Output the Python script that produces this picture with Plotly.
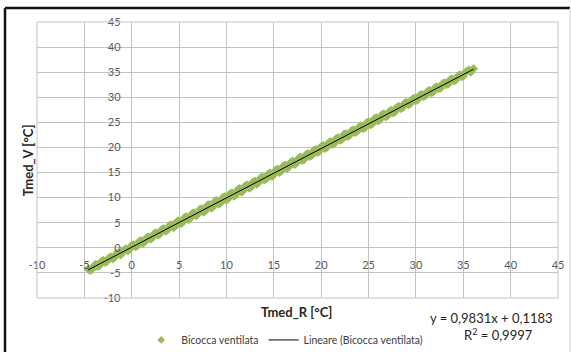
import plotly.graph_objects as go

# Measured mean temperatures: reference sensor (R) vs ventilated sensor (V), °C
tmed_r_a = [-4.6, -4.2, -3.8, -3.4, -3.0, -2.6, -2.2, -1.8, -1.4, -1.0, -0.6, -0.2,
            0.2, 0.6, 1.0, 1.4, 1.8, 2.2, 2.6, 3.0, 3.4, 3.8, 4.2, 4.6, 5.0, 5.4,
            5.8, 6.2, 6.6, 7.0, 7.4, 7.8, 8.2, 8.6, 9.0, 9.4, 9.8, 10.2, 10.6, 11.0,
            11.4, 11.8, 12.2, 12.6, 13.0, 13.4, 13.8, 14.2, 14.6, 15.0, 15.4, 15.8,
            16.2, 16.6, 17.0, 17.4, 17.8, 18.2, 18.6, 19.0, 19.4, 19.8, 20.2, 20.6,
            21.0, 21.4, 21.8, 22.2, 22.6, 23.0, 23.4, 23.8, 24.2, 24.6, 25.0, 25.4,
            25.8, 26.2, 26.6, 27.0, 27.4, 27.8, 28.2, 28.6, 29.0, 29.4, 29.8, 30.2,
            30.6, 31.0, 31.4, 31.8, 32.2, 32.6, 33.0, 33.4, 33.8, 34.2, 34.6, 35.0,
            35.4, 35.8, 36.1]
tmed_v_a = [-4.2, -4.3, -3.3, -3.5, -2.5, -2.7, -1.8, -1.9, -1.0, -1.1, -0.2, -0.3,
            0.6, 0.4, 1.4, 1.2, 2.2, 2.0, 3.0, 2.8, 3.8, 3.6, 4.6, 4.3, 5.4, 5.1,
            6.2, 5.9, 7.0, 6.7, 7.8, 7.4, 8.6, 8.2, 9.4, 9.0, 10.2, 9.8, 10.9, 10.6,
            11.8, 11.4, 12.5, 12.1, 13.3, 13.0, 14.1, 13.7, 14.9, 14.5, 15.7, 15.3,
            16.5, 16.1, 17.3, 16.9, 18.1, 17.6, 18.8, 18.4, 19.6, 19.2, 20.4, 20.0,
            21.2, 20.8, 21.9, 21.6, 22.7, 22.4, 23.5, 23.2, 24.3, 23.9, 25.1, 24.7,
            25.9, 25.5, 26.7, 26.3, 27.4, 27.1, 28.2, 27.9, 29.0, 28.7, 29.8, 29.5,
            30.6, 30.3, 31.4, 31.0, 32.1, 31.8, 32.9, 32.6, 33.7, 33.4, 34.5, 34.2,
            35.2, 35.0, 35.7]
tmed_r_b = [-4.4, -4.0, -3.6, -3.2, -2.8, -2.4, -2.0, -1.6, -1.2, -0.8, -0.4, 0.0,
            0.4, 0.8, 1.2, 1.6, 2.0, 2.4, 2.8, 3.2, 3.6, 4.0, 4.4, 4.8, 5.2, 5.6,
            6.0, 6.4, 6.8, 7.2, 7.6, 8.0, 8.4, 8.8, 9.2, 9.6, 10.0, 10.4, 10.8, 11.2,
            11.6, 12.0, 12.4, 12.8, 13.2, 13.6, 14.0, 14.4, 14.8, 15.2, 15.6, 16.0,
            16.4, 16.8, 17.2, 17.6, 18.0, 18.4, 18.8, 19.2, 19.6, 20.0, 20.4, 20.8,
            21.2, 21.6, 22.0, 22.4, 22.8, 23.2, 23.6, 24.0, 24.4, 24.8, 25.2, 25.6,
            26.0, 26.4, 26.8, 27.2, 27.6, 28.0, 28.4, 28.8, 29.2, 29.6, 30.0, 30.4,
            30.8, 31.2, 31.6, 32.0, 32.4, 32.8, 33.2, 33.6, 34.0, 34.4, 34.8, 35.2,
            35.6]
tmed_v_b = [-4.5, -3.6, -3.7, -2.7, -2.9, -2.0, -2.2, -1.1, -1.4, -0.4, -0.6, 0.5,
            0.2, 1.3, 0.9, 2.1, 1.7, 2.9, 2.5, 3.7, 3.3, 4.5, 4.0, 5.3, 4.8, 6.1,
            5.6, 6.9, 6.4, 7.7, 7.1, 8.5, 7.9, 9.3, 8.7, 10.0, 9.5, 10.8, 10.3, 11.6,
            11.1, 12.4, 11.9, 13.1, 12.7, 13.9, 13.5, 14.7, 14.2, 15.5, 15.0, 16.3,
            15.8, 17.1, 16.6, 17.8, 17.4, 18.6, 18.2, 19.4, 19.0, 20.2, 19.8, 21.0,
            20.6, 21.8, 21.4, 22.6, 22.2, 23.3, 23.0, 24.1, 23.8, 24.9, 24.5, 25.7,
            25.3, 26.5, 26.1, 27.2, 26.9, 28.0, 27.7, 28.8, 28.5, 29.6, 29.3, 30.4,
            30.1, 31.1, 30.9, 31.9, 31.7, 32.7, 32.5, 33.5, 33.3, 34.2, 34.1, 35.0,
            35.4]

# Linear trendline coefficients
slope = 0.9831
intercept = 0.1183
r_squared = 0.9997

axis_ticks = [-10, -5, 0, 5, 10, 15, 20, 25, 30, 35, 40, 45]
axis_tick_labels = ["-10", "-5", "0", "5", "10", "15", "20", "25", "30", "35", "40", "45"]

FONT = "Lato"
GREEN = "#9bbb59"
TICK_COLOR = "#595959"
GRID = "#c3c3c3"

tmed_r = tmed_r_a + tmed_r_b
tmed_v = tmed_v_a + tmed_v_b

x_lo, x_hi = min(tmed_r), max(tmed_r)
trend_x = [x_lo, x_hi]
trend_y = [slope * v + intercept for v in trend_x]

fig = go.Figure()
fig.add_trace(go.Scatter(
    x=tmed_r, y=tmed_v, mode="markers", name="Bicocca ventilata", showlegend=False,
    marker=dict(symbol="diamond", size=7, color=GREEN, line=dict(width=0)),
))
fig.add_trace(go.Scatter(
    x=trend_x, y=trend_y, mode="lines", name="Lineare (Bicocca ventilata)", showlegend=False,
    line=dict(color="#000000", width=1),
))
# Legend entries with small symbols
fig.add_trace(go.Scatter(
    x=[None], y=[None], mode="markers", name="Bicocca ventilata",
    marker=dict(symbol="diamond", size=6, color=GREEN),
))
fig.add_trace(go.Scatter(
    x=[None], y=[None], mode="lines", name="Lineare (Bicocca ventilata)",
    line=dict(color="#000000", width=1),
))

# Axes cross at the origin, Excel style
zero_frac = (0 - axis_ticks[0]) / (axis_ticks[-1] - axis_ticks[0])
common_axis = dict(
    range=[axis_ticks[0], axis_ticks[-1]], tickvals=axis_ticks, ticktext=axis_tick_labels,
    showgrid=True, gridcolor=GRID, gridwidth=1, zeroline=False,
    showline=False, ticks="outside", tickcolor="rgba(0,0,0,0)",
    anchor="free", position=zero_frac,
    tickfont=dict(family=FONT, size=11, color=TICK_COLOR),
)
fig.update_xaxes(**common_axis, ticklen=7)
fig.update_yaxes(**common_axis, ticklen=9)

fig.update_layout(
    width=571, height=352,
    margin=dict(l=37, r=13, t=22, b=54, autoexpand=False),
    paper_bgcolor="white", plot_bgcolor="white",
    font=dict(family=FONT, color="#404040"),
    showlegend=True,
    legend=dict(
        orientation="h", x=0.2, xanchor="left", y=-0.152, yanchor="middle",
        font=dict(family=FONT, size=10.5, color="#404040"),
        itemwidth=30, bgcolor="rgba(0,0,0,0)",
    ),
    shapes=[
        # plot-area frame
        dict(type="rect", xref="paper", yref="paper", x0=0, x1=1, y0=0, y1=1,
             line=dict(color=GRID, width=1)),
        # chart outer frame
        dict(type="line", xref="paper", yref="paper", x0=-0.0614, x1=1.023, y0=1.051, y1=1.051,
             line=dict(color="#111111", width=2.5)),
        dict(type="line", xref="paper", yref="paper", x0=-0.0614, x1=-0.0614, y0=1.051, y1=-0.25,
             line=dict(color="#111111", width=2.5)),
        dict(type="line", xref="paper", yref="paper", x0=1.023, x1=1.023, y0=1.051, y1=-0.25,
             line=dict(color="#d0d0d0", width=1)),
    ],
    annotations=[
        dict(text="<b>Tmed_R [°C]</b>", xref="paper", yref="paper", x=0.499, y=-0.051,
             xanchor="center", yanchor="middle", showarrow=False,
             font=dict(family=FONT, size=13, color="#262626")),
        dict(text="<b>Tmed_V [°C]</b>", xref="paper", yref="paper", x=-0.017, y=0.5,
             xanchor="center", yanchor="middle", textangle=-90, showarrow=False,
             font=dict(family=FONT, size=13, color="#262626")),
        dict(text=f"y = {slope:.4f}x + {intercept:.4f}".replace(".", ","),
             xref="paper", yref="paper", x=0.994, y=-0.072,
             xanchor="right", yanchor="middle", showarrow=False,
             font=dict(family=FONT, size=13, color="#262626")),
        dict(text=f"R<sup>2</sup> = {r_squared:.4f}".replace(".", ","),
             xref="paper", yref="paper", x=0.956, y=-0.134,
             xanchor="right", yanchor="middle", showarrow=False,
             font=dict(family=FONT, size=13, color="#262626")),
    ],
)

fig.write_html("out.html")
